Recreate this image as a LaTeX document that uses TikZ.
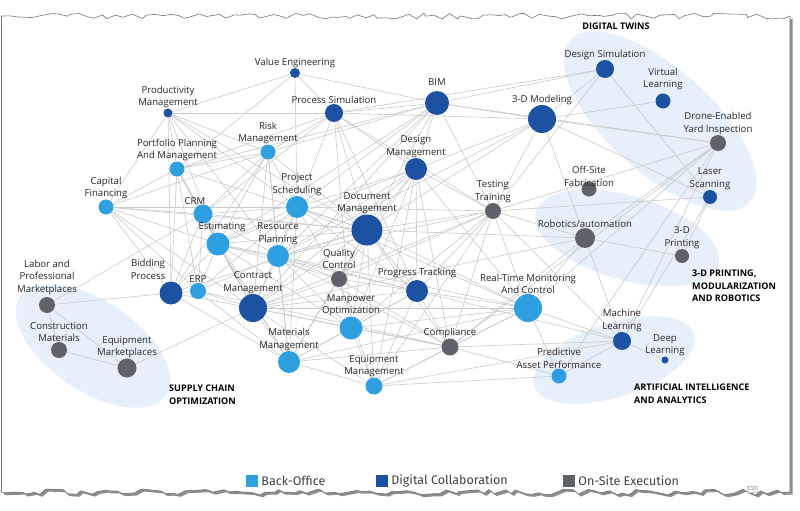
\documentclass[tikz,border=0pt]{standalone}
\usepackage{fontspec}
\newfontfamily\lblfont{Open Sans}
\newfontfamily\legfont{Fira Sans}
\usepackage{tikz}
\usetikzlibrary{shapes.geometric, backgrounds, decorations.pathmorphing}
\definecolor{backoffice}{RGB}{46,160,224}
\definecolor{digicollab}{RGB}{29,82,163}
\definecolor{onsite}{RGB}{95,99,105}
\definecolor{groupfill}{RGB}{231,239,250}
\definecolor{linkgray}{RGB}{202,202,202}

\begin{document}
\begin{tikzpicture}[x=1pt, y=-1pt,
    tech/.style={circle, inner sep=0pt, minimum size=#1},
    bo/.style={tech=#1, fill=backoffice},
    dc/.style={tech=#1, fill=digicollab},
    os/.style={tech=#1, fill=onsite},
    lbl/.style={font=\lblfont\fontsize{9.6}{12.4}\selectfont, align=center, inner sep=0pt, text=black!85},
    link/.style={draw=linkgray, line width=0.6pt},
    group/.style={ellipse, fill=groupfill, inner sep=0pt},
    grouptitle/.style={font=\lblfont\bfseries\fontsize{9.1}{12.6}\selectfont, align=left, anchor=west, inner sep=0pt},
    legkey/.style={minimum size=12pt, inner sep=0pt},
    legtext/.style={font=\legfont\fontsize{12.5}{14}\selectfont, anchor=west, inner sep=0pt, text=black!75},
    torn/.style={decoration={random steps, segment length=7pt, amplitude=3pt}}]

    \useasboundingbox (0,0) rectangle (800,511);

    % Back-Office technologies (light blue)
    \node[bo=15pt, label={[lbl]above:Risk\\Management}] (risk) at (268,152) {};
    \node[bo=15pt, label={[lbl]above:Portfolio Planning\\And Management}] (ppm) at (177,169) {};
    \node[bo=15pt, label={[lbl]above:Capital\\Financing}] (capf) at (106,207) {};
    \node[bo=19pt, label={[lbl,xshift=-8pt]above:CRM}] (crm) at (203,214) {};
    \node[bo=22pt, label={[lbl]above:Project\\Scheduling}] (sched) at (297,207) {};
    \node[bo=23pt, label={[lbl,xshift=4pt]above:Estimating}] (est) at (218,244) {};
    \node[bo=22pt, label={[lbl]above:Resource\\Planning}] (res) at (278,256) {};
    \node[bo=16pt, label={[lbl]above:ERP}] (erp) at (198,291) {};
    \node[bo=23pt, label={[lbl]above:Manpower\\Optimization}] (mp) at (351,328) {};
    \node[bo=22pt, label={[lbl]above:Materials\\Management}] (mat) at (289,362) {};
    \node[bo=17pt, label={[lbl]above:Equipment\\Management}] (eqm) at (374,386) {};
    \node[bo=28pt, label={[lbl]above:Real-Time Monitoring\\And Control}] (rt) at (528,308) {};
    \node[bo=15pt, label={[lbl]above:Predictive\\Asset Performance}] (pap) at (559,376) {};

    % Digital Collaboration technologies (dark blue)
    \node[dc=10pt, label={[lbl]above:Value Engineering}] (ve) at (295,73) {};
    \node[dc=9pt, label={[lbl]above:Productivity\\Management}] (pm) at (168,113) {};
    \node[dc=18pt, label={[lbl]above:Process Simulation}] (ps) at (334,113) {};
    \node[dc=24pt, label={[lbl,label distance=5pt]above:BIM}] (bim) at (437,103) {};
    \node[dc=28pt, label={[lbl]above:3-D Modeling}] (tdm) at (542,119) {};
    \node[dc=18pt, label={[lbl]above:Design Simulation}] (dsim) at (605,69) {};
    \node[dc=15pt, label={[lbl,label distance=3pt]above:Virtual\\Learning}] (vl) at (663,101) {};
    \node[dc=14pt, label={[lbl]above:Laser\\Scanning}] (laser) at (710,197) {};
    \node[dc=22pt, label={[lbl]above:Design\\Management}] (dm) at (416,169) {};
    \node[dc=31pt, label={[lbl]above:Document\\Management}] (doc) at (367,230) {};
    \node[dc=22pt, label={[lbl,label distance=2pt]above:Progress Tracking}] (prog) at (417,291) {};
    \node[dc=23pt, label={[lbl,xshift=-23pt,label distance=2pt]above:Bidding\\Process}] (bid) at (171,293) {};
    \node[dc=28pt, label={[lbl]above:Contract\\Management}] (cm) at (253,308) {};
    \node[dc=18pt, label={[lbl]above:Machine\\Learning}] (ml) at (622,341) {};
    \node[dc=7pt, label={[lbl]above:Deep\\Learning}] (dl) at (665,360) {};

    % On-Site Execution technologies (grey)
    \node[os=16pt, label={[lbl]above:Drone-Enabled\\Yard Inspection}] (drone) at (718,143) {};
    \node[os=15pt, label={[lbl,label distance=-5pt]above:Off-Site\\Fabrication}] (osf) at (589,189) {};
    \node[os=20pt, label={[lbl]above:Robotics/automation}] (rob) at (585,238) {};
    \node[os=14pt, label={[lbl]above:3-D\\Printing}] (tdp) at (682,256) {};
    \node[os=16pt, label={[lbl]above:Testing\\Training}] (test) at (493,211) {};
    \node[os=16pt, label={[lbl,label distance=2pt]above:Quality\\Control}] (qc) at (339,279) {};
    \node[os=17pt, label={[lbl]above:Compliance}] (comp) at (450,347) {};
    \node[os=16pt, label={[lbl,label distance=2pt]above:Labor and\\Professional\\Marketplaces}] (lab) at (47,305) {};
    \node[os=16pt, label={[lbl]above:Construction\\Materials}] (cmat) at (59,350) {};
    \node[os=19pt, label={[lbl]above:Equipment\\Marketplaces}] (eqmk) at (127,368) {};

    % Group titles
    \node[grouptitle, anchor=center] (twins-t) at (616,26) {DIGITAL TWINS};
    \node[grouptitle] (printing-t) at (692,286) {3-D PRINTING,\\MODULARIZATION\\AND ROBOTICS};
    \node[grouptitle] (ai-t) at (634,394) {ARTIFICIAL INTELLIGENCE\\AND ANALYTICS};
    \node[grouptitle] (supply-t) at (169,395) {SUPPLY CHAIN\\OPTIMIZATION};

    % Legend along the bottom
    \node[legkey, fill=backoffice] (key-bo) at (252,481) {};
    \node[legtext] (txt-bo) at ([xshift=3pt]key-bo.east) {Back-Office};
    \node[legkey, fill=digicollab] (key-dc) at (382,481) {};
    \node[legtext] (txt-dc) at ([xshift=3pt]key-dc.east) {Digital Collaboration};
    \node[legkey, fill=onsite] (key-os) at (569,481) {};
    \node[legtext] (txt-os) at ([xshift=3pt]key-os.east) {On-Site Execution};

    \begin{scope}[on background layer]
        % Torn paper sheet with its shadow
        \fill[white] (0,0) rectangle (800,511);
        \pgfmathsetseed{11}
        \fill[black!45, xshift=2.5pt, yshift=-2.5pt] (1.5,492) -- (1.5,16)
            decorate[torn]{-- (790,16)} -- (790,492) decorate[torn]{-- (1.5,492)} -- cycle;
        \pgfmathsetseed{11}
        \draw[black!55, fill=white, line width=0.6pt] (1.5,492) -- (1.5,16)
            decorate[torn]{-- (790,16)} -- (790,492) decorate[torn]{-- (1.5,492)} -- cycle;
        \node[font=\legfont\fontsize{5}{6}\selectfont, text=black!45, draw=black!20, inner sep=1pt] (copy) at (752,489) {Cop};

        % Shaded clusters
        \node[group, minimum width=242pt, minimum height=104pt, rotate=-42] (twins) at (660,121) {};
        \node[group, minimum width=190pt, minimum height=84pt, rotate=-16] (printing) at (627,238) {};
        \node[group, minimum width=168pt, minimum height=74pt, rotate=18] (aigroup) at (614,360) {};
        \node[group, minimum width=176pt, minimum height=90pt, rotate=-34] (supply) at (93,346) {};

        % Connections between technologies
        \draw[link] (ve) edge (pm) edge (ps) edge (bim) edge (sched) edge (ppm);
        \draw[link] (pm) edge (ps) edge (capf) edge (ppm) edge (risk) edge (est) edge (doc) edge (res) edge (bid) edge (sched);
        \draw[link] (ps) edge (bim) edge (tdm) edge (dsim) edge (risk) edge (sched) edge (doc) edge (dm) edge (prog) edge (mp) edge (ppm) edge (crm) edge (test);
        \draw[link] (bim) edge (tdm) edge (dsim) edge (dm) edge (test) edge (doc) edge (sched) edge (risk) edge (ppm) edge (res) edge (est) edge (drone) edge (cm);
        \draw[link] (tdm) edge (dsim) edge (vl) edge (drone) edge (laser) edge (rob) edge (test) edge (dm) edge (res) edge (doc);
        \draw[link] (dsim) edge (laser) edge (test);
        \draw[link] (drone) edge (rob) edge (rt) edge (test) edge (ml) edge (pap) edge (comp);
        \draw[link] (laser) edge (test) edge (tdp) edge (ml);
        \draw[link] (rob) edge (tdp) edge (ml) edge (test) edge (rt) edge (doc) edge (comp) edge (cm);
        \draw[link] (risk) edge (ppm) edge (capf) edge (crm) edge (est) edge (res) edge (sched) edge (doc) edge (cm) edge (mat) edge (bid);
        \draw[link] (ppm) edge (capf) edge (crm) edge (est) edge (bid) edge (erp) edge (cm) edge (mat) edge (doc);
        \draw[link] (capf) edge (crm) edge (sched) edge (doc) edge (est) edge (bid) edge (erp) edge (cm);
        \draw[link] (crm) edge (sched) edge (doc) edge (res) edge (bid) edge (cm) edge (lab) edge (erp);
        \draw[link] (sched) edge (dm) edge (doc) edge (res) edge (est) edge (cm) edge (qc) edge (prog) edge (mat) edge (test) edge (rt) edge (erp);
        \draw[link] (doc) edge (dm) edge (test) edge (res) edge (cm) edge (qc) edge (prog) edge (mp) edge (mat) edge (eqm) edge (comp) edge (rt) edge (est) edge (bid);
        \draw[link] (dm) edge (test) edge (res) edge (prog) edge (comp) edge (rt) edge (mp) edge (eqm) edge (cm) edge (est) edge (qc);
        \draw[link] (test) edge (rt) edge (prog) edge (comp) edge (ml) edge (eqm) edge (cm) edge (mp) edge (qc) edge (res);
        \draw[link] (est) edge (res) edge (bid) edge (cm) edge (erp) edge (qc) edge (mat) edge (prog) edge (mp);
        \draw[link] (res) edge (cm) edge (qc) edge (mp) edge (mat) edge (prog) edge (comp) edge (erp) edge (rt);
        \draw[link] (qc) edge (prog) edge (mp) edge (comp) edge (mat) edge (eqm) edge (cm);
        \draw[link] (prog) edge (rt) edge (comp) edge (mp) edge (eqm) edge (cm) edge (mat) edge (ml);
        \draw[link] (rt) edge (ml) edge (pap) edge (cm) edge (mp) edge (comp) edge (eqm) edge (mat);
        \draw[link] (ml) edge (dl) edge (pap) edge (comp) edge (eqm);
        \draw[link] (pap) edge (eqm) edge (comp);
        \draw[link] (bid) edge (lab) edge (erp) edge (cm) edge (mat);
        \draw[link] (erp) edge (cm) edge (mat) edge (comp);
        \draw[link] (cm) edge (mp) edge (mat) edge (eqm) edge (comp) edge (eqmk);
        \draw[link] (mp) edge (eqm) edge (comp) edge (mat);
        \draw[link] (mat) edge (eqm) edge (comp);
        \draw[link] (eqm) edge (comp);
        \draw[link] (lab) edge (cmat) edge (eqmk);
        \draw[link] (cmat) edge (eqmk);
    \end{scope}

\end{tikzpicture}
\end{document}
